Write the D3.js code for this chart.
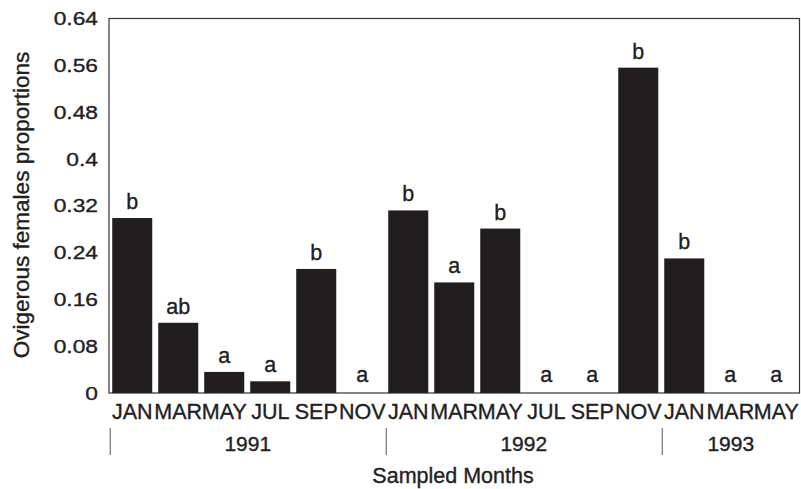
<!DOCTYPE html>
<html>
<head>
<meta charset="utf-8">
<script src="https://cdn.jsdelivr.net/npm/d3@7"></script>
<style>
  html, body { margin: 0; padding: 0; background: #fff; }
  svg { display: block; font-family: "Liberation Sans", Arial, Helvetica, sans-serif; }
  svg text { stroke: #221e1f; stroke-width: 0.35px; }
</style>
</head>
<body>
<svg id="chart" width="801" height="489"></svg>
<script>
// ---- data ----
const months = ["JAN","MAR","MAY","JUL","SEP","NOV","JAN","MAR","MAY","JUL","SEP","NOV","JAN","MAR","MAY"];
const yearOf = ["1991","1991","1991","1991","1991","1991","1992","1992","1992","1992","1992","1992","1993","1993","1993"];
const values = [0.299, 0.120, 0.036, 0.020, 0.212, 0, 0.312, 0.189, 0.281, 0, 0, 0.556, 0.230, 0, 0];
const letters = ["b","ab","a","a","b","a","b","a","b","a","a","b","b","a","a"];
const years = ["1991","1992","1993"];
const yTicks = [0, 0.08, 0.16, 0.24, 0.32, 0.4, 0.48, 0.56, 0.64];
const yTitle = "Ovigerous females proportions";
const xTitle = "Sampled Months";

// ---- layout ----
const padL = 109, padR = 799.5, padT = 18.5, padB = 393;
const ink = "#221e1f";
const svg = d3.select("#chart");

const idx = months.map((m, i) => i);
const x = d3.scaleBand().domain(idx).range([padL, padR]).paddingInner(0.13).paddingOuter(0.07);
const y = d3.scaleLinear().domain([0, 0.64]).range([padB, padT]);

// frame
svg.append("rect")
  .attr("x", padL).attr("y", padT)
  .attr("width", padR - padL).attr("height", padB - padT)
  .attr("fill", "none").attr("stroke", "#333").attr("stroke-width", 1.2);

// y axis (labels only, no tick marks)
const yAxis = d3.axisLeft(y).tickValues(yTicks).tickSize(0).tickPadding(11)
  .tickFormat(d => d === 0 ? "0" : String(+d.toFixed(2)));
const gy = svg.append("g").attr("transform", `translate(${padL},0)`).call(yAxis);
gy.select(".domain").remove();
gy.selectAll("text")
  .attr("font-size", 19).attr("fill", ink)
  .attr("font-family", "Liberation Sans, Arial, sans-serif")
  .attr("transform", "translate(-11,0) scale(1.2,1) translate(11,0)");

// bars
svg.append("g").selectAll("rect").data(idx).join("rect")
  .attr("x", i => x(i))
  .attr("width", x.bandwidth())
  .attr("y", i => y(values[i]))
  .attr("height", i => padB - y(values[i]))
  .attr("fill", ink);

// letters above bars
svg.append("g").selectAll("text").data(idx).join("text")
  .attr("x", i => x(i) + x.bandwidth() / 2)
  .attr("y", i => y(values[i]) - (values[i] === 0 ? 11 : 9))
  .attr("text-anchor", "middle")
  .attr("font-size", 21.5).attr("fill", ink)
  .text(i => letters[i]);

// x axis month labels
const xAxis = d3.axisBottom(x).tickSize(0).tickPadding(0).tickFormat(i => months[i]);
const gx = svg.append("g").attr("transform", `translate(0,${padB})`).call(xAxis);
gx.select(".domain").remove();
gx.selectAll("text")
  .attr("font-size", 21.5).attr("fill", ink)
  .attr("font-family", "Liberation Sans, Arial, sans-serif")
  .attr("dy", null).attr("y", 26);

// year groups
const gapHalf = x.step() * x.paddingInner() / 2;
const yearG = svg.append("g");
years.forEach(yr => {
  const members = idx.filter(i => yearOf[i] === yr);
  const x0 = x(members[0]) - gapHalf + 1;
  const x1 = x(members[members.length - 1]) + x.bandwidth() + gapHalf;
  yearG.append("line")
    .attr("x1", x0).attr("x2", x0).attr("y1", 428).attr("y2", 455)
    .attr("stroke", "#555").attr("stroke-width", 1);
  yearG.append("text")
    .attr("x", (x0 + Math.min(x1, padR)) / 2).attr("y", 451)
    .attr("text-anchor", "middle").attr("font-size", 21).attr("fill", ink)
    .text(yr);
});

// axis titles
svg.append("text")
  .attr("x", 453).attr("y", 483)
  .attr("text-anchor", "middle").attr("font-size", 21.5).attr("fill", ink)
  .text(xTitle);

svg.append("text")
  .attr("transform", "translate(29,205) rotate(-90)")
  .attr("text-anchor", "middle").attr("font-size", 22.5).attr("fill", ink)
  .text(yTitle);
</script>
</body>
</html>
